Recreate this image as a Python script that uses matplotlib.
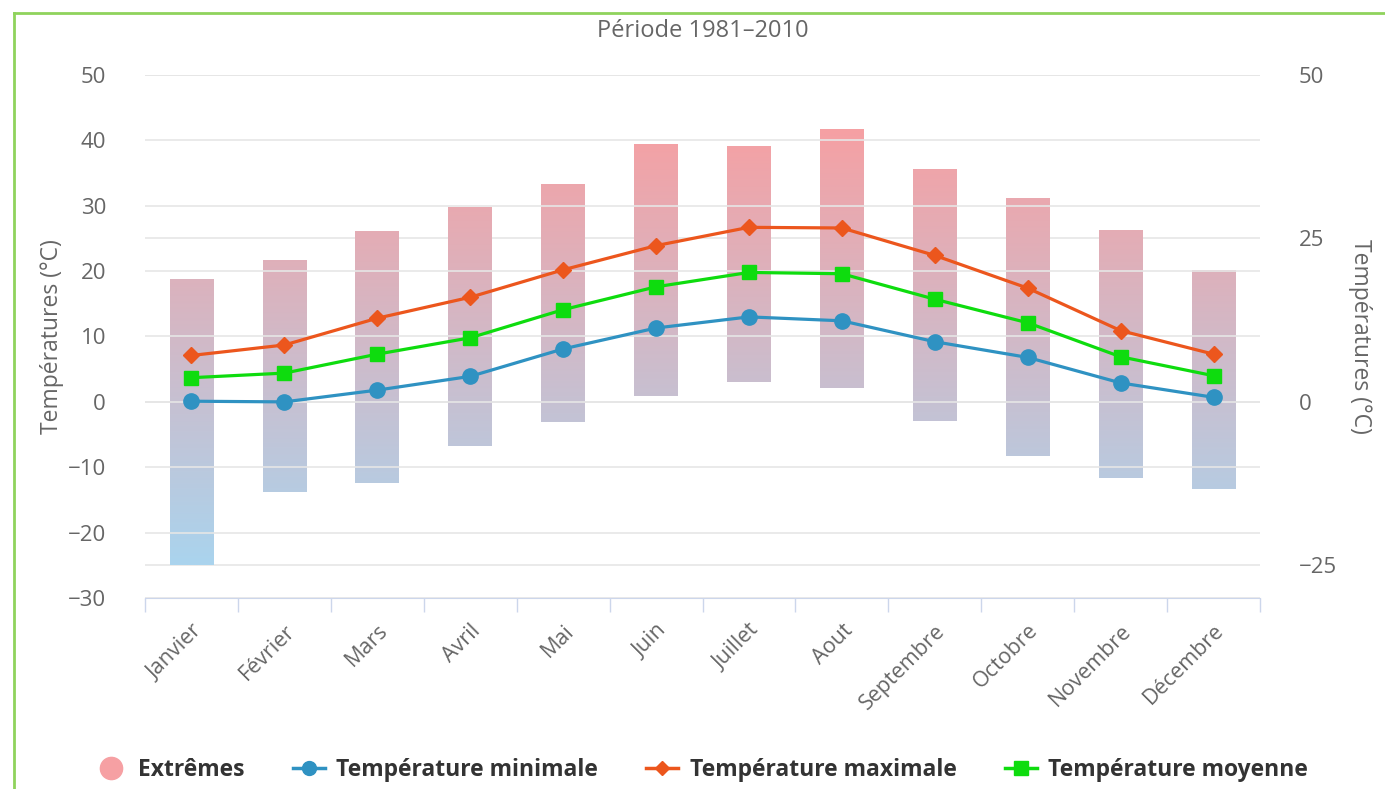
import numpy as np
import matplotlib
matplotlib.use('Agg')
from matplotlib import pyplot as plt
from matplotlib.colors import LinearSegmentedColormap, Normalize
from matplotlib.lines import Line2D

plt.rcParams['font.family'] = ['Open Sans', 'DejaVu Sans']

# data
mois = ['Janvier', 'Février', 'Mars', 'Avril', 'Mai', 'Juin', 'Juillet',
        'Aout', 'Septembre', 'Octobre', 'Novembre', 'Décembre']
ext_haut = [18.7, 21.6, 26.1, 29.8, 33.2, 39.4, 39.1, 41.6, 35.6, 31.1, 26.1, 20.1]
ext_bas = [-24.9, -13.8, -12.4, -6.7, -3.1, 0.9, 3.1, 2.1, -2.9, -8.3, -11.7, -13.3]
t_min = [0.1, 0.0, 1.8, 3.9, 8.1, 11.3, 13.0, 12.4, 9.2, 6.8, 2.9, 0.7]
t_max = [7.1, 8.7, 12.8, 16.0, 20.2, 23.9, 26.7, 26.6, 22.4, 17.4, 10.9, 7.3]
t_moy = [3.7, 4.4, 7.3, 9.8, 14.1, 17.6, 19.8, 19.6, 15.7, 12.1, 6.9, 4.0]

txt = '#666666'
grid_c = '#e6e6e6'
axis_c = '#ccd6eb'

fig = plt.figure(figsize=(13.85, 7.89), dpi=100)
ax = fig.add_axes([145 / 1385, 191 / 789, 1115 / 1385, 523 / 789])
ax2 = ax.twinx()
ax.set_zorder(2)
ax2.set_zorder(1)
ax.patch.set_visible(False)

x = np.arange(len(mois))

# gradient bars for the extremes
cmap = LinearSegmentedColormap.from_list('ext', ['#aad4ee', '#f6a0a3'])
norm = Normalize(-25, 42)
w = 0.47
for i in range(len(mois)):
    grad = np.linspace(ext_bas[i], ext_haut[i], 200).reshape(-1, 1)
    ax.imshow(grad, cmap=cmap, norm=norm, origin='lower', aspect='auto',
              extent=(x[i] - w / 2, x[i] + w / 2, ext_bas[i], ext_haut[i]),
              zorder=1, interpolation='bilinear')

ax.plot(x, t_min, color='#2f92c2', lw=2.3, marker='o', ms=11, zorder=3)
ax.plot(x, t_max, color='#ec561d', lw=2.3, marker='D', ms=8, zorder=3)
ax.plot(x, t_moy, color='#0edc0e', lw=2.3, marker='s', ms=10, zorder=3)

for a in (ax, ax2):
    a.set_xlim(-0.5, len(mois) - 0.5)
    a.set_ylim(-30, 50)
    for s in a.spines.values():
        s.set_visible(False)

ax.spines['bottom'].set_visible(True)
ax.spines['bottom'].set_color(axis_c)

ax.set_yticks(np.arange(-30, 51, 10))
ax.yaxis.grid(True, color=grid_c, lw=1.2)
ax.tick_params(axis='y', length=0, pad=28, labelsize=16, labelcolor=txt)
ax.set_ylabel('Températures (°C)', fontsize=16.5, color=txt, labelpad=3)

ax2.set_yticks([-25, 0, 25, 50])
ax2.yaxis.grid(True, color=grid_c, lw=1.2)
ax2.tick_params(axis='y', length=0, pad=28, labelsize=16, labelcolor=txt)
ax2.set_ylabel('Températures (°C)', fontsize=16.5, color=txt, rotation=270,
               labelpad=25)

ax.set_xticks(x)
ax.set_xticklabels(mois, rotation=45, ha='right', va='top',
                   rotation_mode='anchor', fontsize=15.5, color=txt)
ax.set_xticks(np.arange(-0.5, len(mois)), minor=True)
ax.tick_params(axis='x', which='major', length=0, pad=16)
ax.tick_params(axis='x', which='minor', length=10, color=axis_c, width=1)

ax.set_title('Période 1981–2010', fontsize=17, color=txt, pad=27)

handles = [
    Line2D([], [], color='#f6a0a3', marker='o', ms=16, lw=0),
    Line2D([], [], color='#2f92c2', marker='o', ms=10, lw=2.5),
    Line2D([], [], color='#ec561d', marker='D', ms=7, lw=2.5),
    Line2D([], [], color='#0edc0e', marker='s', ms=10, lw=2.5),
]
labels = ['Extrêmes', 'Température minimale', 'Température maximale',
          'Température moyenne']
leg = fig.legend(handles, labels, loc='center', ncol=4, frameon=False,
                 bbox_to_anchor=(0.5065, 0.024), handlelength=1.4,
                 columnspacing=2.1, handletextpad=0.5,
                 prop={'weight': 'bold', 'size': 16.5})
for t in leg.get_texts():
    t.set_color('#333333')

# green frame on the left and top
fig.add_artist(Line2D([14 / 1385, 14 / 1385], [0, 1 - 13 / 789],
                      color='#8fd35c', lw=2, transform=fig.transFigure))
fig.add_artist(Line2D([14 / 1385, 1], [1 - 13 / 789, 1 - 13 / 789],
                      color='#8fd35c', lw=2, transform=fig.transFigure))

fig.savefig('out.png', dpi=100)
